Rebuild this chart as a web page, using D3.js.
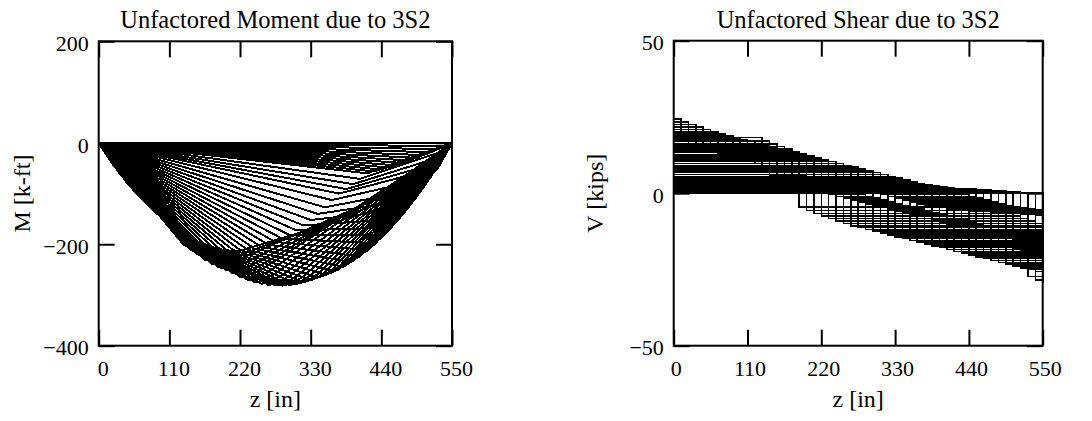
<!DOCTYPE html>
<html>
<head>
<meta charset="utf-8">
<script src="https://cdn.jsdelivr.net/npm/d3@7"></script>
<style>
  body { margin: 0; background: #fff; }
  svg text { font-family: "Liberation Serif", "Times New Roman", serif; fill: #000; }
</style>
</head>
<body>
<svg id="chart" width="1092" height="421"></svg>
<script>
// Simply supported girder, span length (in)
const spanLength = 550;
// 3S2 axle loads carried by the girder (kips), steer axle first
const axleLoads = [7.2, 11.4, 11.4, 11.4, 11.4];
// Axle-to-axle spacings (in)
const axleSpacing = [132, 48, 300, 48];
// Increment used for both the truck position and the output sections (in)
const stepLength = 11;

// Axis ticks
const zTicks = [0, 110, 220, 330, 440, 550];
const momentTicks = [200, 0, -200, -400];
const shearTicks = [50, 0, -50];

// Axle offsets measured back from the steer axle
const axleOffsets = axleSpacing.reduce((acc, s) => { acc.push(acc[acc.length - 1] + s); return acc; }, [0]);
const sections = d3.range(0, spanLength + 1, stepLength);
const truckPositions = d3.range(0, spanLength + 1, stepLength);

// Moment (k-ft, sagging drawn negative) and shear (kips) along the span for one truck position
function loadCase(a) {
  const axles = axleOffsets
    .map((o, i) => ({ x: a + o, p: axleLoads[i] }))
    .filter(d => d.x >= 0 && d.x <= spanLength);
  const RL = d3.sum(axles, d => d.p * (spanLength - d.x) / spanLength);
  const moment = sections.map(z => [z,
    -(RL * z - d3.sum(axles.filter(d => d.x < z), d => d.p * (z - d.x))) / 12]);
  const shear = sections.map(z => [z,
    RL - d3.sum(axles.filter(d => d.x <= z), d => d.p)]);
  return { moment, shear };
}

const cases = truckPositions.map(loadCase);
const svg = d3.select("#chart");

function panel(cfg) {
  const g = svg.append("g");
  const x = d3.scaleLinear().domain([0, spanLength]).range([cfg.left, cfg.right]);
  const y = d3.scaleLinear().domain([cfg.yTicks[0], cfg.yTicks[cfg.yTicks.length - 1]]).range([cfg.top, cfg.bottom]);

  const line = d3.line().x(d => x(d[0])).y(d => y(d[1])).curve(cfg.curve);
  g.append("g")
    .selectAll("path")
    .data(cfg.series)
    .join("path")
    .attr("d", line)
    .attr("fill", "none")
    .attr("stroke", "#000")
    .attr("stroke-width", cfg.lineWidth)
    .attr("shape-rendering", "crispEdges");

  const tick = 16;
  const styleAxis = sel => {
    sel.selectAll(".domain").remove();
    sel.selectAll(".tick line").attr("stroke", "#000").attr("stroke-width", 2);
  };

  // bottom axis with labels
  g.append("g")
    .attr("transform", `translate(0,${cfg.bottom})`)
    .call(d3.axisBottom(x).tickValues(zTicks).tickSize(-tick).tickPadding(15).tickFormat(d3.format("d")))
    .call(styleAxis)
    .call(s => s.selectAll("text").attr("font-size", 22).attr("dx", cfg.labelShift)
      .style("font-family", "'Liberation Serif', serif"));
  // top axis
  g.append("g")
    .attr("transform", `translate(0,${cfg.top})`)
    .call(d3.axisTop(x).tickValues(zTicks).tickSize(-tick).tickFormat(""))
    .call(styleAxis);
  // left axis with labels
  g.append("g")
    .attr("transform", `translate(${cfg.left},0)`)
    .call(d3.axisLeft(y).tickValues(cfg.yTicks).tickSize(-tick).tickPadding(10))
    .call(styleAxis)
    .call(s => s.selectAll("text").attr("font-size", 22).attr("dy", "0.42em")
      .style("font-family", "'Liberation Serif', serif"));
  // right axis
  g.append("g")
    .attr("transform", `translate(${cfg.right},0)`)
    .call(d3.axisRight(y).tickValues(cfg.yTicks).tickSize(-tick).tickFormat(""))
    .call(styleAxis);

  // frame
  g.append("rect")
    .attr("x", cfg.left).attr("y", cfg.top)
    .attr("width", cfg.right - cfg.left).attr("height", cfg.bottom - cfg.top)
    .attr("fill", "none").attr("stroke", "#000").attr("stroke-width", 2);

  const cx = (cfg.left + cfg.right) / 2;
  g.append("text").attr("x", cx).attr("y", 28).attr("text-anchor", "middle")
    .attr("font-size", 24.5).text(cfg.title);
  g.append("text").attr("x", cx).attr("y", 407).attr("text-anchor", "middle")
    .attr("font-size", 24).text("z [in]");
  g.append("text")
    .attr("transform", `translate(${cfg.yLabelX},${(cfg.top + cfg.bottom) / 2}) rotate(-90)`)
    .attr("text-anchor", "middle").attr("font-size", 24).text(cfg.yLabel);
}

panel({
  left: 98.7, right: 452, top: 41.3, bottom: 345.7,
  yTicks: momentTicks, series: cases.map(c => c.moment), curve: d3.curveLinear, lineWidth: 2,
  title: "Unfactored Moment due to 3S2", yLabel: "M [k-ft]", yLabelX: 30, labelShift: 4
});

panel({
  left: 673.7, right: 1042.7, top: 40.7, bottom: 345.7,
  yTicks: shearTicks, series: cases.map(c => c.shear), curve: d3.curveStepAfter, lineWidth: 1.6,
  title: "Unfactored Shear due to 3S2", yLabel: "V [kips]", yLabelX: 603, labelShift: 2
});
</script>
</body>
</html>
